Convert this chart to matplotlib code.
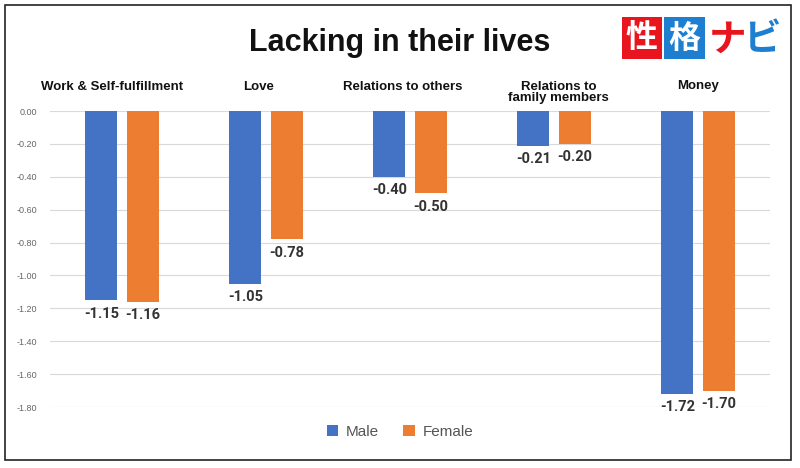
import matplotlib
matplotlib.use("Agg")
import matplotlib.pyplot as plt
from matplotlib.patches import Rectangle
import numpy as np

categories = ["Work & Self-fulfillment", "Love", "Relations to others", "Relations to\nfamily members", "Money"]
male = [-1.15, -1.05, -0.40, -0.21, -1.72]
female = [-1.16, -0.78, -0.50, -0.20, -1.70]
yticks = [0.0, -0.2, -0.4, -0.6, -0.8, -1.0, -1.2, -1.4, -1.6, -1.8]

blue = "#4472C4"
orange = "#ED7D31"
sans = "Liberation Sans"

fig = plt.figure(figsize=(8, 4.68), dpi=100)
ax = fig.add_axes([0.0625, 0.1303, 0.9, 0.6325])

x = np.arange(len(categories))
w = 0.222
off = 0.143
ax.bar(x - off, male, w, color=blue, label="Male", zorder=3)
ax.bar(x + off, female, w, color=orange, label="Female", zorder=3)

for xi, v in zip(x - off, male):
    ax.text(xi, v - 0.04, f"{v:.2f}", ha="center", va="top", fontsize=10.5,
            fontweight="bold", color="#333333", family="Roboto")
for xi, v in zip(x + off, female):
    ax.text(xi, v - 0.04, f"{v:.2f}", ha="center", va="top", fontsize=10.5,
            fontweight="bold", color="#333333", family="Roboto")

ax.set_xlim(-0.5, len(categories) - 0.5)
ax.set_ylim(-1.8, 0.0)
ax.set_yticks(yticks)
ax.set_yticklabels([f"{t:.2f}" for t in yticks], fontsize=6.5, color="#666666",
                   family=sans)
ax.tick_params(axis="y", length=0, pad=9)
ax.set_xticks([])
ax.grid(axis="y", color="#d9d9d9", linewidth=0.8, zorder=0)
for s in ax.spines.values():
    s.set_visible(False)

label_x = [-0.07, -0.05, -0.05, 0.03, 0.0]
for xi, dx, c in zip(x, label_x, categories):
    fig.text(ax.transData.transform((xi + dx, 0))[0] / fig.bbox.width, 1 - 80.5 / 468, c,
             ha="center", va="top", fontsize=9.5, fontweight="bold", color="#111111",
             linespacing=1.0, family=sans)

fig.text(0.5, 1 - 43 / 468, "Lacking in their lives", ha="center", va="center",
         fontsize=22, fontweight="bold", color="#111111", family=sans)

# logo
cjk = ["Noto Sans CJK JP", "DejaVu Sans"]
for (x0, x1, col) in [(622, 662, "#E8141E"), (664, 705, "#1E7FD0")]:
    fig.add_artist(Rectangle((x0 / 800, 1 - 59 / 468), (x1 - x0) / 800, 42 / 468,
                             transform=fig.transFigure, fc=col, ec="none"))
fig.text(642 / 800, 1 - 38.5 / 468, "性", ha="center", va="center", fontsize=23,
         fontweight="bold", color="white", family=cjk)
fig.text(684.5 / 800, 1 - 38.5 / 468, "格", ha="center", va="center", fontsize=23,
         fontweight="bold", color="white", family=cjk)
fig.text(727 / 800, 1 - 39 / 468, "ナ", ha="center", va="center", fontsize=27,
         fontweight="bold", color="#E8141E", family=cjk)
fig.text(762 / 800, 1 - 39 / 468, "ビ", ha="center", va="center", fontsize=27,
         fontweight="bold", color="#1E7FD0", family=cjk)

leg = fig.legend(loc="center", bbox_to_anchor=(0.5, 1 - 432 / 468), ncol=2,
                 frameon=False, prop={"family": sans, "size": 11},
                 handlelength=0.75, handleheight=0.75,
                 handletextpad=0.5, columnspacing=1.6)
for t in leg.get_texts():
    t.set_color("#555555")

fig.add_artist(Rectangle((5 / 800, 1 - 460 / 468), 786 / 800, 455 / 468,
                         transform=fig.transFigure, fill=False, ec="#222222", lw=1.2))

fig.savefig("out.png", dpi=100)
